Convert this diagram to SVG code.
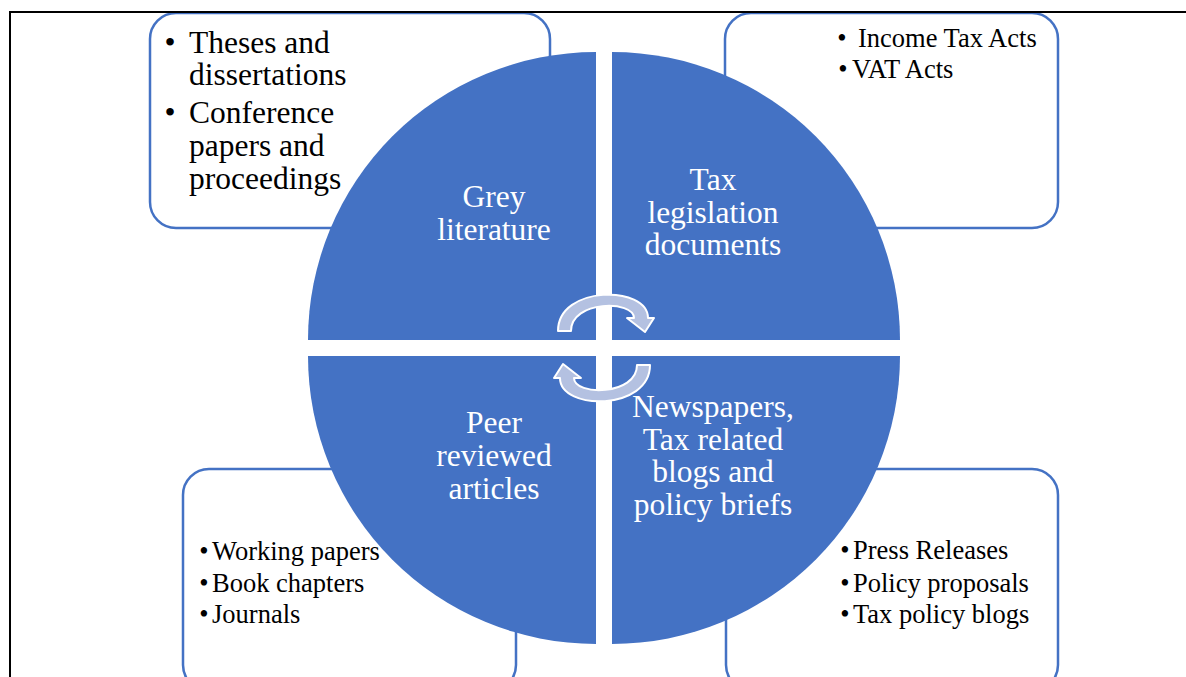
<svg xmlns="http://www.w3.org/2000/svg" width="1186" height="677" viewBox="0 0 1186 677">
  <style>
    .box { fill: #ffffff; stroke: #4472C4; stroke-width: 2.5; }
    .quad { fill: #4472C4; }
    .frame { fill: none; stroke: #000000; stroke-width: 2; }
    .lbl { font-family: "Liberation Serif", "Times New Roman", serif; font-size: 31.5px; fill: #ffffff; text-anchor: middle; }
    .big { font-family: "Liberation Serif", "Times New Roman", serif; font-size: 31.5px; fill: #000000; }
    .sm { font-family: "Liberation Serif", "Times New Roman", serif; font-size: 26.5px; fill: #000000; }
    .bul { text-anchor: middle; }
    .cyc { fill: #B4C1E1; stroke: #ffffff; stroke-width: 2; stroke-linejoin: round; }
  </style>
  <defs>
    <!-- one curved arrow of the cycle; the second is this one turned half a turn -->
    <path id="cycle-arrow" d="M 558 331 C 558 285 648 285 648 318 L 654 318 L 645 332 L 627 318 L 634 318 C 634 300 571 300 571 331 Z"/>
  </defs>

  <rect width="1186" height="677" fill="#ffffff"/>

  <!-- detail boxes behind the wheel -->
  <g id="box-grey">
    <rect class="box" x="150" y="13" width="400" height="215" rx="26"/>
    <text class="big bul" x="170" y="53">•</text>
    <text class="big" x="189" y="53">Theses and</text>
    <text class="big" x="189" y="85">dissertations</text>
    <text class="big bul" x="170" y="123">•</text>
    <text class="big" x="189" y="123">Conference</text>
    <text class="big" x="189" y="156">papers and</text>
    <text class="big" x="189" y="189">proceedings</text>
  </g>
  <g id="box-legislation">
    <rect class="box" x="725" y="13" width="333" height="215" rx="26"/>
    <text class="sm bul" x="842" y="47">•</text>
    <text class="sm" x="858" y="47">Income Tax Acts</text>
    <text class="sm bul" x="843" y="78">•</text>
    <text class="sm" x="852" y="78">VAT Acts</text>
  </g>
  <g id="box-peer">
    <rect class="box" x="183" y="469" width="333" height="222" rx="26"/>
    <text class="sm bul" x="204" y="560">•</text>
    <text class="sm" x="212" y="560">Working papers</text>
    <text class="sm bul" x="204" y="592">•</text>
    <text class="sm" x="212" y="592">Book chapters</text>
    <text class="sm bul" x="204" y="623">•</text>
    <text class="sm" x="212" y="623">Journals</text>
  </g>
  <g id="box-news">
    <rect class="box" x="726" y="469" width="332" height="222" rx="26"/>
    <text class="sm bul" x="845" y="559">•</text>
    <text class="sm" x="853" y="559">Press Releases</text>
    <text class="sm bul" x="845" y="592">•</text>
    <text class="sm" x="853" y="592">Policy proposals</text>
    <text class="sm bul" x="845" y="623">•</text>
    <text class="sm" x="853" y="623">Tax policy blogs</text>
  </g>

  <!-- page frame -->
  <path class="frame" d="M 10 690 L 10 12 L 1200 12"/>

  <!-- wheel quadrants -->
  <g id="quad-grey">
    <path class="quad" d="M 596 340 L 308 340 A 288 288 0 0 1 596 52 Z"/>
    <text class="lbl" x="494" y="207">Grey</text>
    <text class="lbl" x="494" y="240">literature</text>
  </g>
  <g id="quad-legislation">
    <path class="quad" d="M 612 340 L 612 52 A 288 288 0 0 1 900 340 Z"/>
    <text class="lbl" x="713" y="190">Tax</text>
    <text class="lbl" x="713" y="223">legislation</text>
    <text class="lbl" x="713" y="255">documents</text>
  </g>
  <g id="quad-peer">
    <path class="quad" d="M 596 356 L 596 644 A 288 288 0 0 1 308 356 Z"/>
    <text class="lbl" x="494" y="433">Peer</text>
    <text class="lbl" x="494" y="466">reviewed</text>
    <text class="lbl" x="494" y="499">articles</text>
  </g>
  <g id="quad-news">
    <path class="quad" d="M 612 356 L 900 356 A 288 288 0 0 1 612 644 Z"/>
    <text class="lbl" x="713" y="417">Newspapers,</text>
    <text class="lbl" x="713" y="450">Tax related</text>
    <text class="lbl" x="713" y="482">blogs and</text>
    <text class="lbl" x="713" y="515">policy briefs</text>
  </g>

  <!-- cycle arrows in the centre -->
  <g id="connectors">
    <use href="#cycle-arrow" class="cyc"/>
    <use href="#cycle-arrow" class="cyc" transform="rotate(180 604 348)"/>
  </g>
</svg>
